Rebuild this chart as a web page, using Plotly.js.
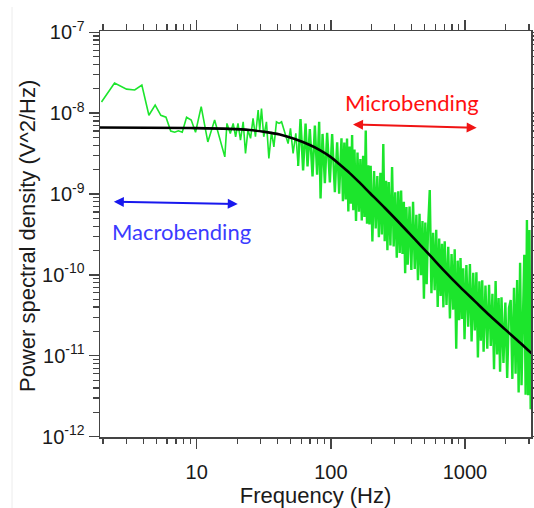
<!DOCTYPE html>
<html><head><meta charset="utf-8">
<script src="https://cdn.plot.ly/plotly-3.0.1.min.js"></script>
<style>html,body{margin:0;padding:0;background:#fff}#chart{width:534px;height:508px}</style>
</head><body><div id="chart"></div>
<script>
// Measured PSD (green), frequencies in Hz
const psdFreq = [1.95,2.44,3.0,3.45,3.9,4.4,4.9,5.4,5.9,6.4,6.85,7.3,7.8,8.4,9.1,9.8,10.8,12.1,13.6,
15.3,16.2,16.8,17.8,18.7,19.5,20.3,21.2,22.2,23.1,24.1,25.2,26.3,27.4,28.7,29.5,30.4,31.6,33.1,34.5,36.1,37.6,39.3,41.1,42.9,45.4,48.0,50.0,52.3,54.8,57.0,59.4,62.1,64.8,67.0,69.7,73.0,76.0,79.0,81.8,83.8,86.7,90.2,93.8,98.3,102.2,107.1,111.4,115.3,
120,123,126,129,132,135,138,141,144,147,150,154,158,162,166,170,174,178,182,186,190,194,198,
204,210,216,222,228,234,240,246,252,258,264,270,278,286,294,302,310,318,326,334,342,350,358,366,374,
386,398,410,422,434,446,458,470,482,494,506,518,530,546,562,578,594,610,626,642,658,674,690,706,
728,750,772,794,816,838,860,882,904,926,948,970,992,1024,1056,1088,1120,1152,1184,1216,1248,1280,1312,1344,1376,
1421,1466,1511,1556,1601,1646,1691,1736,1781,1826,1871,1935,1999,2063,2127,2191,2255,2319,2383,2447,2511,2575,2639,2703,2767,2831,2895,2959,3023,3087];
const psdValue = [1.37e-8,2.35e-8,1.98e-8,1.93e-8,2.22e-8,9.4e-9,1.26e-8,9.4e-9,8.9e-9,6.0e-9,5.8e-9,6.05e-9,5.8e-9,8.9e-9,8.2e-9,5.8e-9,1.2e-8,4.4e-9,8.2e-9,
4.2e-9,2.88e-9,7.46e-9,5.61e-9,7.46e-9,5.1e-9,7.46e-9,4.64e-9,7.8e-9,3.18e-9,6.17e-9,4.87e-9,8.6e-9,5.1e-9,1.09e-8,6.17e-9,1.14e-8,5.1e-9,7.8e-9,2.76e-9,5.88e-9,3.83e-9,7.8e-9,7.46e-9,7.8e-9,5.61e-9,4.2e-9,6.47e-9,3.18e-9,5.61e-9,
2.22e-9,8.43e-9,1.96e-9,7.42e-9,2.19e-9,6.35e-9,1.65e-9,7.01e-9,1.73e-9,7.8e-9,8.8e-10,5.53e-9,1.36e-9,5.71e-9,1.39e-9,5.5e-9,1.05e-9,4.37e-9,1.01e-9,
4.87e-9,8.13e-10,4.33e-9,8.58e-10,4.86e-9,6.08e-10,3.86e-9,7.59e-10,5.35e-9,6.29e-10,3.54e-9,4.63e-10,3.26e-9,6.03e-10,2.7e-9,4.71e-10,2.96e-9,5.19e-10,6.08e-9,4.28e-10,2.27e-9,4.2e-10,2.23e-9,
2.59e-10,1.92e-9,3.75e-10,1.67e-9,2.92e-10,1.83e-9,3.17e-10,4.16e-9,2.6e-10,1.46e-9,2.02e-10,1.41e-9,2.31e-10,2.15e-9,2.24e-10,1.05e-9,1.63e-10,1.08e-9,1.87e-10,1.1e-9,1.81e-10,7.99e-10,1.05e-10,6.91e-10,1.34e-10,
6.99e-10,1.15e-10,8.03e-10,1.18e-10,5.53e-10,8.6e-11,5.68e-10,9.9e-11,4.63e-10,5.09e-11,4.45e-10,7.67e-11,3.61e-10,1.12e-9,5.95e-11,3.32e-10,6.47e-11,3.62e-10,4.0e-11,2.81e-10,5.48e-11,2.42e-10,3.97e-11,2.61e-10,
4.24e-11,2.23e-10,2.9e-11,1.81e-10,3.72e-11,2.07e-10,1.22e-11,1.5e-10,2.75e-11,1.62e-10,2.85e-11,1.21e-10,1.6e-11,1.32e-10,2.29e-11,1.36e-10,1.5e-11,1.06e-10,2.05e-11,1.08e-10,9.5e-12,8.33e-11,1.53e-11,8.58e-11,1.12e-11,
7.38e-11,1.22e-11,7.57e-11,1.32e-11,5.85e-11,6.81e-12,8.41e-11,1.04e-11,5.16e-11,6.36e-12,5.29e-11,8.17e-12,4.54e-11,5.3e-12,3.91e-11,4.9e-11,5.18e-12,6.91e-11,6.0e-12,8.67e-11,3.52e-12,1.41e-10,4.33e-12,2.9e-11,1.77e-10,3.3e-12,4.78e-10,3.26e-12,3.6e-10,2.18e-12];

// Fitted curve (black)
const fitFreq = [1.888,10,17.63,24.86,32.17,41.64,53.87,69.7,82.78,100,116.7,138.7,164.6,195.4,252.9,327.3,423.6,548.1,709,917.8,1187,1537,1989,2573,3135];
const fitValue = [6.63e-9,6.53e-9,6.38e-9,6.17e-9,5.86e-9,5.43e-9,4.78e-9,4.03e-9,3.49e-9,2.86e-9,2.31e-9,1.8e-9,1.37e-9,1.03e-9,6.71e-10,4.32e-10,2.74e-10,1.74e-10,1.1e-10,7.11e-11,4.71e-11,3.12e-11,2.12e-11,1.45e-11,1.07e-11];

const xTickVals = [10,100,1000];
const xTickText = ['10','100','1000'];
const yTickVals = [1e-12,1e-11,1e-10,1e-9,1e-8,1e-7];
const yTickText = ['10<sup>-12</sup>','10<sup>-11</sup>','10<sup>-10</sup>','10<sup>-9</sup>','10<sup>-8</sup>','10<sup>-7</sup>'];
const xTitle = 'Frequency (Hz)';
const yTitle = 'Power spectral density (V^2/Hz)';
const microLabel = 'Microbending';
const macroLabel = 'Macrobending';

// The sparse low-frequency part is drawn with a thinner stroke than the dense noisy part
const denseFrom = psdFreq.indexOf(57.0);

const sansFamily = 'Liberation Sans, Arial, sans-serif';
const tickFont = {family: sansFamily, size: 20, color: '#1a1a1a'};
const axisCommon = {
  type: 'log', showgrid: false, zeroline: false, showline: true, linecolor: '#444', linewidth: 1.5,
  mirror: 'ticks', ticks: 'outside', ticklen: 10, tickwidth: 1.3, tickcolor: '#444',
  tickmode: 'array', tickfont: tickFont, automargin: false,
  minor: {ticks: 'outside', ticklen: 5.5, tickwidth: 1.2, tickcolor: '#444', dtick: 'D1', showgrid: false}
};

const green = 'rgb(28,229,44)';
const traces = [
  {x: psdFreq.slice(0, denseFrom + 1), y: psdValue.slice(0, denseFrom + 1), type: 'scatter', mode: 'lines',
   line: {color: green, width: 1.6}, hoverinfo: 'skip', showlegend: false},
  {x: psdFreq.slice(denseFrom), y: psdValue.slice(denseFrom), type: 'scatter', mode: 'lines',
   line: {color: green, width: 2.4}, hoverinfo: 'skip', showlegend: false},
  {x: fitFreq, y: fitValue, type: 'scatter', mode: 'lines',
   line: {color: '#000', width: 2.6, shape: 'spline'}, hoverinfo: 'skip', showlegend: false}
];

const layout = {
  width: 534, height: 508,
  margin: {l: 100, r: 3, t: 31, b: 71, pad: 0},
  paper_bgcolor: '#fff', plot_bgcolor: '#fff',
  showlegend: false,
  xaxis: Object.assign({}, axisCommon, {
    range: [0.279, 3.492], tickvals: xTickVals, ticktext: xTickText, ticklabelstandoff: 6,
    title: {text: xTitle, font: {family: sansFamily, size: 22, color: '#1a1a1a'}, standoff: 12}
  }),
  yaxis: Object.assign({}, axisCommon, {
    range: [-12.004, -6.985], tickvals: yTickVals, ticktext: yTickText
  }),
  annotations: [
    {xref: 'paper', yref: 'paper', x: (27 - 100) / 431, y: 1 - (236 - 31) / 406, text: yTitle,
     textangle: -90, showarrow: false, xanchor: 'center', yanchor: 'middle',
     font: {family: sansFamily, size: 22, color: '#1a1a1a'}},
    {xref: 'x', yref: 'y', x: 2.604, y: -7.873, text: microLabel, showarrow: false,
     font: {family: 'Lato, sans-serif', size: 22, color: '#ff1010'}},
    {xref: 'x', yref: 'y', x: 0.886, y: -9.465, text: macroLabel, showarrow: false,
     font: {family: 'Lato, sans-serif', size: 22, color: '#3b3bff'}},
    {xref: 'x', yref: 'y', axref: 'x', ayref: 'y', x: 3.087, y: -8.181, ax: 2.154, ay: -8.140,
     text: '', showarrow: true, arrowhead: 2, arrowside: 'end+start', arrowsize: 1, arrowwidth: 2,
     arrowcolor: '#f01414', standoff: 0, startstandoff: 0},
    {xref: 'x', yref: 'y', axref: 'x', ayref: 'y', x: 1.306, y: -9.123, ax: 0.371, ay: -9.095,
     text: '', showarrow: true, arrowhead: 2, arrowside: 'end+start', arrowsize: 1, arrowwidth: 2,
     arrowcolor: '#1818ee', standoff: 0, startstandoff: 0}
  ],
  shapes: [
    {type: 'line', xref: 'paper', yref: 'paper', x0: (12 - 100) / 431, x1: (12 - 100) / 431,
     y0: 1 - (7 - 31) / 406, y1: 1 - (508 - 31) / 406, line: {color: '#ececec', width: 1}}
  ]
};

Plotly.newPlot('chart', traces, layout, {staticPlot: true, displayModeBar: false});
</script>
</body></html>
